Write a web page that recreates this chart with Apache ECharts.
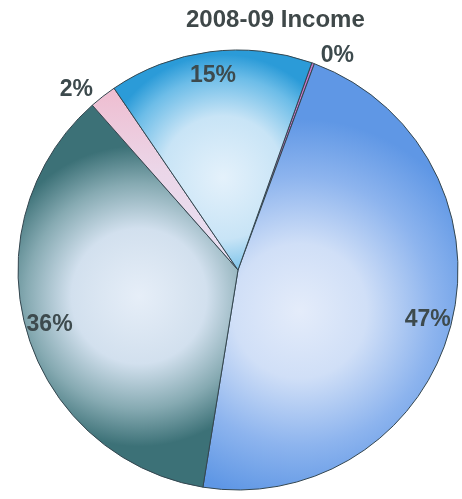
<!DOCTYPE html>
<html>
<head>
<meta charset="utf-8">
<script src="https://cdn.jsdelivr.net/npm/echarts@6/dist/echarts.min.js"></script>
<style>
  html, body { margin: 0; padding: 0; background: #ffffff; }
  #chart { width: 462px; height: 499px; }
</style>
</head>
<body>
<div id="chart"></div>
<script>
// Income shares, listed clockwise from the top
const categories = ['Other', 'Source A', 'Source B', 'Source C', 'Source D'];
const shares = [0.2, 47, 36, 2, 15];

const stopsOf = (stops) => stops.map(([o, c]) => ({ offset: o, color: c }));
const linear = (x2, y2, stops) => new echarts.graphic.LinearGradient(0, 0, x2, y2, stopsOf(stops));
const radial = (x, y, r, stops) => new echarts.graphic.RadialGradient(x, y, r, stopsOf(stops));

const fills = [
  '#c474c8',
  radial(0.38, 0.58, 0.75, [[0, '#e4ecfa'], [0.35, '#d0dff7'], [0.7, '#8db4ee'], [1, '#5f97e5']]),
  radial(0.55, 0.5, 0.68, [[0, '#e6eef8'], [0.45, '#d2e0ee'], [0.75, '#86aab2'], [1, '#3c7177']]),
  linear(0, 1, [[0, '#efbdd0'], [0.45, '#ebd6e8'], [1, '#e8e2f4']]),
  radial(0.55, 0.58, 0.62, [[0, '#e4f1fb'], [0.5, '#c8e4f6'], [0.82, '#6dbde8'], [1, '#2b9bd8']])
];

const labelFont = { fontFamily: 'Liberation Sans, Arial, sans-serif', fontWeight: 'bold', fontSize: 23, color: '#3d4a4d' };

const chart = echarts.init(document.getElementById('chart'), null, { renderer: 'canvas' });
chart.setOption({
  animation: false,
  title: {
    text: '2008-09 Income',
    left: 181, top: 3,
    textStyle: { fontFamily: 'Liberation Sans, Arial, sans-serif', fontWeight: 'bold', fontSize: 24, color: '#3f4849' }
  },
  series: [
    {
      type: 'pie',
      center: [238, 270],
      radius: 220,
      startAngle: 70.4,
      clockwise: true,
      silent: true,
      label: { show: false },
      labelLine: { show: false },
      itemStyle: { borderColor: '#34464f', borderWidth: 1 },
      data: categories.map((name, i) => ({ name, value: shares[i], itemStyle: { color: fills[i] } }))
    },
    {
      // label ring sitting over the outer part of the pie
      type: 'pie',
      center: [238, 270],
      radius: ['72%', 220],
      startAngle: 70.4,
      clockwise: true,
      silent: true,
      percentPrecision: 0,
      itemStyle: { color: 'transparent', borderWidth: 0 },
      labelLine: { show: false, length: 8, length2: 0 },
      label: Object.assign({ show: true, position: 'inside', formatter: '{d}%' }, labelFont),
      data: categories.map((name, i) => {
        const item = { name, value: shares[i] };
        if (shares[i] < 5) {
          item.label = { position: 'outside', padding: i === 3 ? [0, 0, 18, 0] : 0 };
          item.labelLine = { show: false, length: 8, length2: 0 };
        }
        return item;
      })
    }
  ]
});
</script>
</body>
</html>
